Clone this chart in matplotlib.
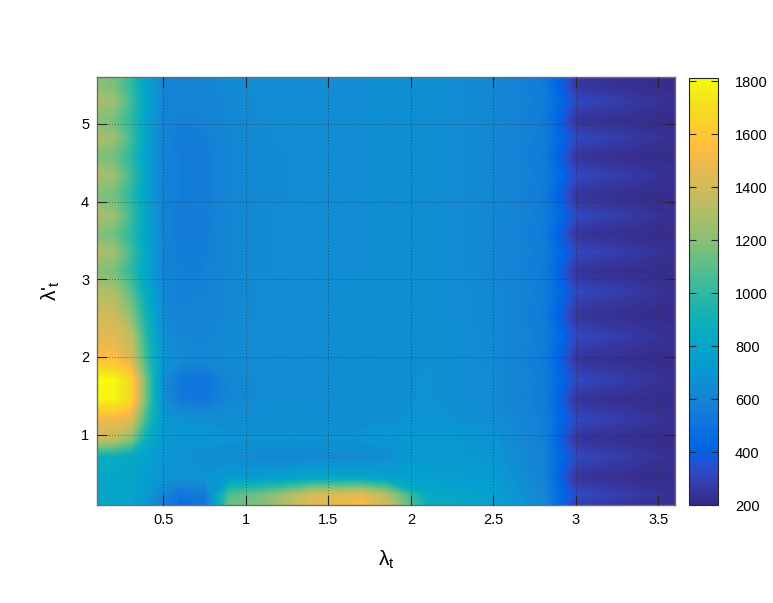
import numpy as np
import matplotlib
matplotlib.use("Agg")
import matplotlib.pyplot as plt
from matplotlib.colors import LinearSegmentedColormap

plt.rcParams['font.family'] = ['Liberation Sans', 'DejaVu Sans']

# ---- data ----
lambda_t = [0.1, 0.2, 0.3, 0.4, 0.5, 0.6, 0.75, 0.9, 1.1, 1.4, 1.7, 1.85,
            2.1, 2.5, 2.8, 2.9, 3.0, 3.3, 3.6]
lambda_p = [0.10, 0.22, 0.45, 0.71, 0.95, 1.20, 1.45, 1.71, 1.98, 2.26, 2.55,
            2.84, 3.10, 3.35, 3.58, 3.82, 4.08, 4.34, 4.58, 4.82, 5.05, 5.29,
            5.50, 5.60]
values = [
    [800, 800, 780, 700, 560, 480, 520, 1120, 1180, 1450, 1520, 1380, 860, 780, 630, 430, 280, 230, 218],
    [800, 800, 780, 720, 600, 500, 540, 1080, 1160, 1420, 1470, 1320, 830, 760, 620, 450, 330, 280, 225],
    [800, 800, 790, 740, 690, 680, 690, 730, 740, 800, 800, 770, 760, 730, 590, 400, 240, 220, 215],
    [860, 850, 820, 760, 700, 680, 660, 640, 620, 620, 630, 660, 720, 700, 590, 440, 320, 270, 225],
    [1380, 1350, 1200, 860, 720, 700, 690, 690, 690, 690, 690, 700, 720, 690, 570, 400, 240, 220, 215],
    [1500, 1500, 1450, 1000, 700, 680, 670, 660, 660, 660, 660, 670, 690, 660, 570, 440, 320, 270, 225],
    [1780, 1780, 1680, 1100, 650, 540, 520, 620, 650, 655, 660, 665, 680, 640, 550, 400, 240, 220, 215],
    [1811, 1800, 1680, 1100, 650, 520, 500, 620, 650, 655, 660, 665, 680, 640, 560, 440, 320, 270, 225],
    [1560, 1550, 1420, 1000, 690, 640, 630, 640, 650, 655, 660, 665, 675, 635, 545, 400, 240, 220, 215],
    [1460, 1450, 1350, 950, 660, 620, 610, 635, 650, 655, 660, 665, 675, 635, 560, 440, 320, 270, 225],
    [1400, 1380, 1200, 900, 630, 590, 590, 630, 650, 655, 660, 665, 670, 630, 545, 400, 240, 220, 215],
    [1320, 1280, 1100, 820, 615, 580, 585, 625, 650, 655, 660, 665, 670, 630, 560, 440, 320, 270, 225],
    [1190, 1150, 1000, 780, 605, 570, 575, 620, 645, 650, 655, 660, 665, 625, 545, 400, 240, 220, 215],
    [1300, 1250, 1050, 790, 605, 565, 570, 620, 645, 650, 655, 660, 665, 625, 560, 440, 320, 270, 225],
    [1180, 1140, 990, 770, 600, 560, 565, 620, 645, 650, 655, 660, 665, 625, 545, 400, 240, 220, 215],
    [1290, 1240, 1040, 780, 595, 555, 565, 620, 645, 650, 655, 660, 665, 625, 560, 440, 320, 270, 225],
    [1180, 1140, 990, 760, 590, 550, 560, 615, 640, 650, 655, 660, 665, 625, 545, 400, 240, 220, 215],
    [1290, 1240, 1040, 770, 590, 550, 560, 615, 640, 650, 655, 660, 665, 625, 560, 440, 320, 270, 225],
    [1180, 1140, 990, 760, 590, 550, 560, 615, 640, 650, 655, 660, 665, 625, 545, 400, 240, 220, 215],
    [1290, 1240, 1040, 770, 595, 560, 570, 620, 645, 650, 655, 660, 665, 625, 560, 440, 320, 270, 225],
    [1190, 1150, 1000, 760, 600, 575, 585, 625, 645, 650, 655, 660, 665, 625, 545, 400, 240, 220, 215],
    [1290, 1240, 1050, 780, 605, 590, 595, 630, 650, 650, 655, 660, 665, 625, 560, 440, 320, 270, 225],
    [1200, 1160, 1000, 760, 605, 595, 605, 635, 650, 650, 655, 660, 665, 625, 545, 400, 250, 222, 215],
    [1220, 1180, 1010, 770, 610, 600, 610, 635, 650, 650, 655, 660, 665, 625, 550, 420, 270, 228, 218],
]
x_ticks = [0.5, 1, 1.5, 2, 2.5, 3, 3.5]
x_ticklabels = ['0.5', '1', '1.5', '2', '2.5', '3', '3.5']
y_ticks = [1, 2, 3, 4, 5]
y_ticklabels = ['1', '2', '3', '4', '5']
cbar_ticks = [200, 400, 600, 800, 1000, 1200, 1400, 1600, 1800]
cmin, cmax = 200, 1811

# ---- parula colormap (MATLAB) ----
parula = [
    [0.2081, 0.1663, 0.5292], [0.2116, 0.1898, 0.5777], [0.2123, 0.2138, 0.6270],
    [0.2081, 0.2386, 0.6771], [0.1959, 0.2645, 0.7279], [0.1707, 0.2919, 0.7792],
    [0.1253, 0.3242, 0.8303], [0.0591, 0.3598, 0.8683], [0.0117, 0.3875, 0.8820],
    [0.0060, 0.4086, 0.8828], [0.0165, 0.4266, 0.8786], [0.0329, 0.4430, 0.8720],
    [0.0498, 0.4586, 0.8641], [0.0629, 0.4737, 0.8554], [0.0723, 0.4887, 0.8467],
    [0.0779, 0.5040, 0.8384], [0.0793, 0.5200, 0.8312], [0.0749, 0.5375, 0.8263],
    [0.0641, 0.5570, 0.8240], [0.0488, 0.5772, 0.8228], [0.0343, 0.5966, 0.8199],
    [0.0265, 0.6137, 0.8135], [0.0239, 0.6287, 0.8038], [0.0231, 0.6418, 0.7913],
    [0.0228, 0.6535, 0.7768], [0.0267, 0.6642, 0.7607], [0.0384, 0.6743, 0.7436],
    [0.0590, 0.6838, 0.7254], [0.0843, 0.6928, 0.7062], [0.1133, 0.7015, 0.6859],
    [0.1453, 0.7098, 0.6646], [0.1801, 0.7177, 0.6424], [0.2178, 0.7250, 0.6193],
    [0.2586, 0.7317, 0.5954], [0.3022, 0.7376, 0.5712], [0.3482, 0.7424, 0.5473],
    [0.3953, 0.7459, 0.5244], [0.4420, 0.7481, 0.5033], [0.4871, 0.7491, 0.4840],
    [0.5300, 0.7491, 0.4661], [0.5709, 0.7485, 0.4494], [0.6099, 0.7473, 0.4337],
    [0.6473, 0.7456, 0.4188], [0.6834, 0.7435, 0.4044], [0.7184, 0.7411, 0.3905],
    [0.7525, 0.7384, 0.3768], [0.7858, 0.7356, 0.3633], [0.8185, 0.7327, 0.3498],
    [0.8507, 0.7299, 0.3360], [0.8824, 0.7274, 0.3217], [0.9139, 0.7258, 0.3063],
    [0.9450, 0.7261, 0.2886], [0.9739, 0.7314, 0.2666], [0.9938, 0.7455, 0.2403],
    [0.9990, 0.7653, 0.2164], [0.9955, 0.7861, 0.1967], [0.9880, 0.8066, 0.1794],
    [0.9789, 0.8271, 0.1633], [0.9697, 0.8481, 0.1475], [0.9626, 0.8705, 0.1309],
    [0.9589, 0.8949, 0.1132], [0.9598, 0.9218, 0.0948], [0.9661, 0.9514, 0.0755],
    [0.9763, 0.9831, 0.0538]]
cmap = LinearSegmentedColormap.from_list('parula', parula, N=256)

# ---- figure ----
fig = plt.figure(figsize=(7.73, 6.03), dpi=100)
fig.patch.set_facecolor('white')
ax = fig.add_axes([0.1261, 0.1633, 0.7471, 0.7085])
cax = fig.add_axes([0.8917, 0.1625, 0.0375, 0.7076])

Z = np.array(values, dtype=float)
levels = np.linspace(cmin, cmax + 0.5, 160)
cs = ax.contourf(lambda_t, lambda_p, Z, levels=levels, cmap=cmap,
                 vmin=cmin, vmax=cmax, antialiased=False, zorder=1)

ax.set_xlim(0.1, 3.6)
ax.set_ylim(0.1, 5.6)
ax.set_xticks(x_ticks)
ax.set_xticklabels(x_ticklabels)
ax.set_yticks(y_ticks)
ax.set_yticklabels(y_ticklabels)

edge = '#262626'
ax.set_axisbelow(False)
ax.grid(True, linestyle=(0, (1, 2.5)), color=edge, linewidth=0.6, alpha=0.75)
ax.tick_params(direction='in', length=7, width=0.8, color=edge,
               top=True, right=True, labelsize=10.5, pad=6, labelcolor='black')
for s in ax.spines.values():
    s.set_color('#6e6e6e')
    s.set_linewidth(1.0)

ax.set_xlabel('λ$\\mathregular{_t}$', fontsize=15, labelpad=16)
ax.set_ylabel("λ'$\\mathregular{_t}$", fontsize=15, labelpad=14)

cb = fig.colorbar(cs, cax=cax, ticks=cbar_ticks)
cb.outline.set_edgecolor(edge)
cb.outline.set_linewidth(0.8)
cax.tick_params(direction='in', length=5, width=0.8, color=edge,
                left=True, right=True, labelsize=10.5, pad=12)
cax.set_yticklabels([str(t) for t in cbar_ticks])

fig.savefig('out.png', dpi=100, facecolor='white')
